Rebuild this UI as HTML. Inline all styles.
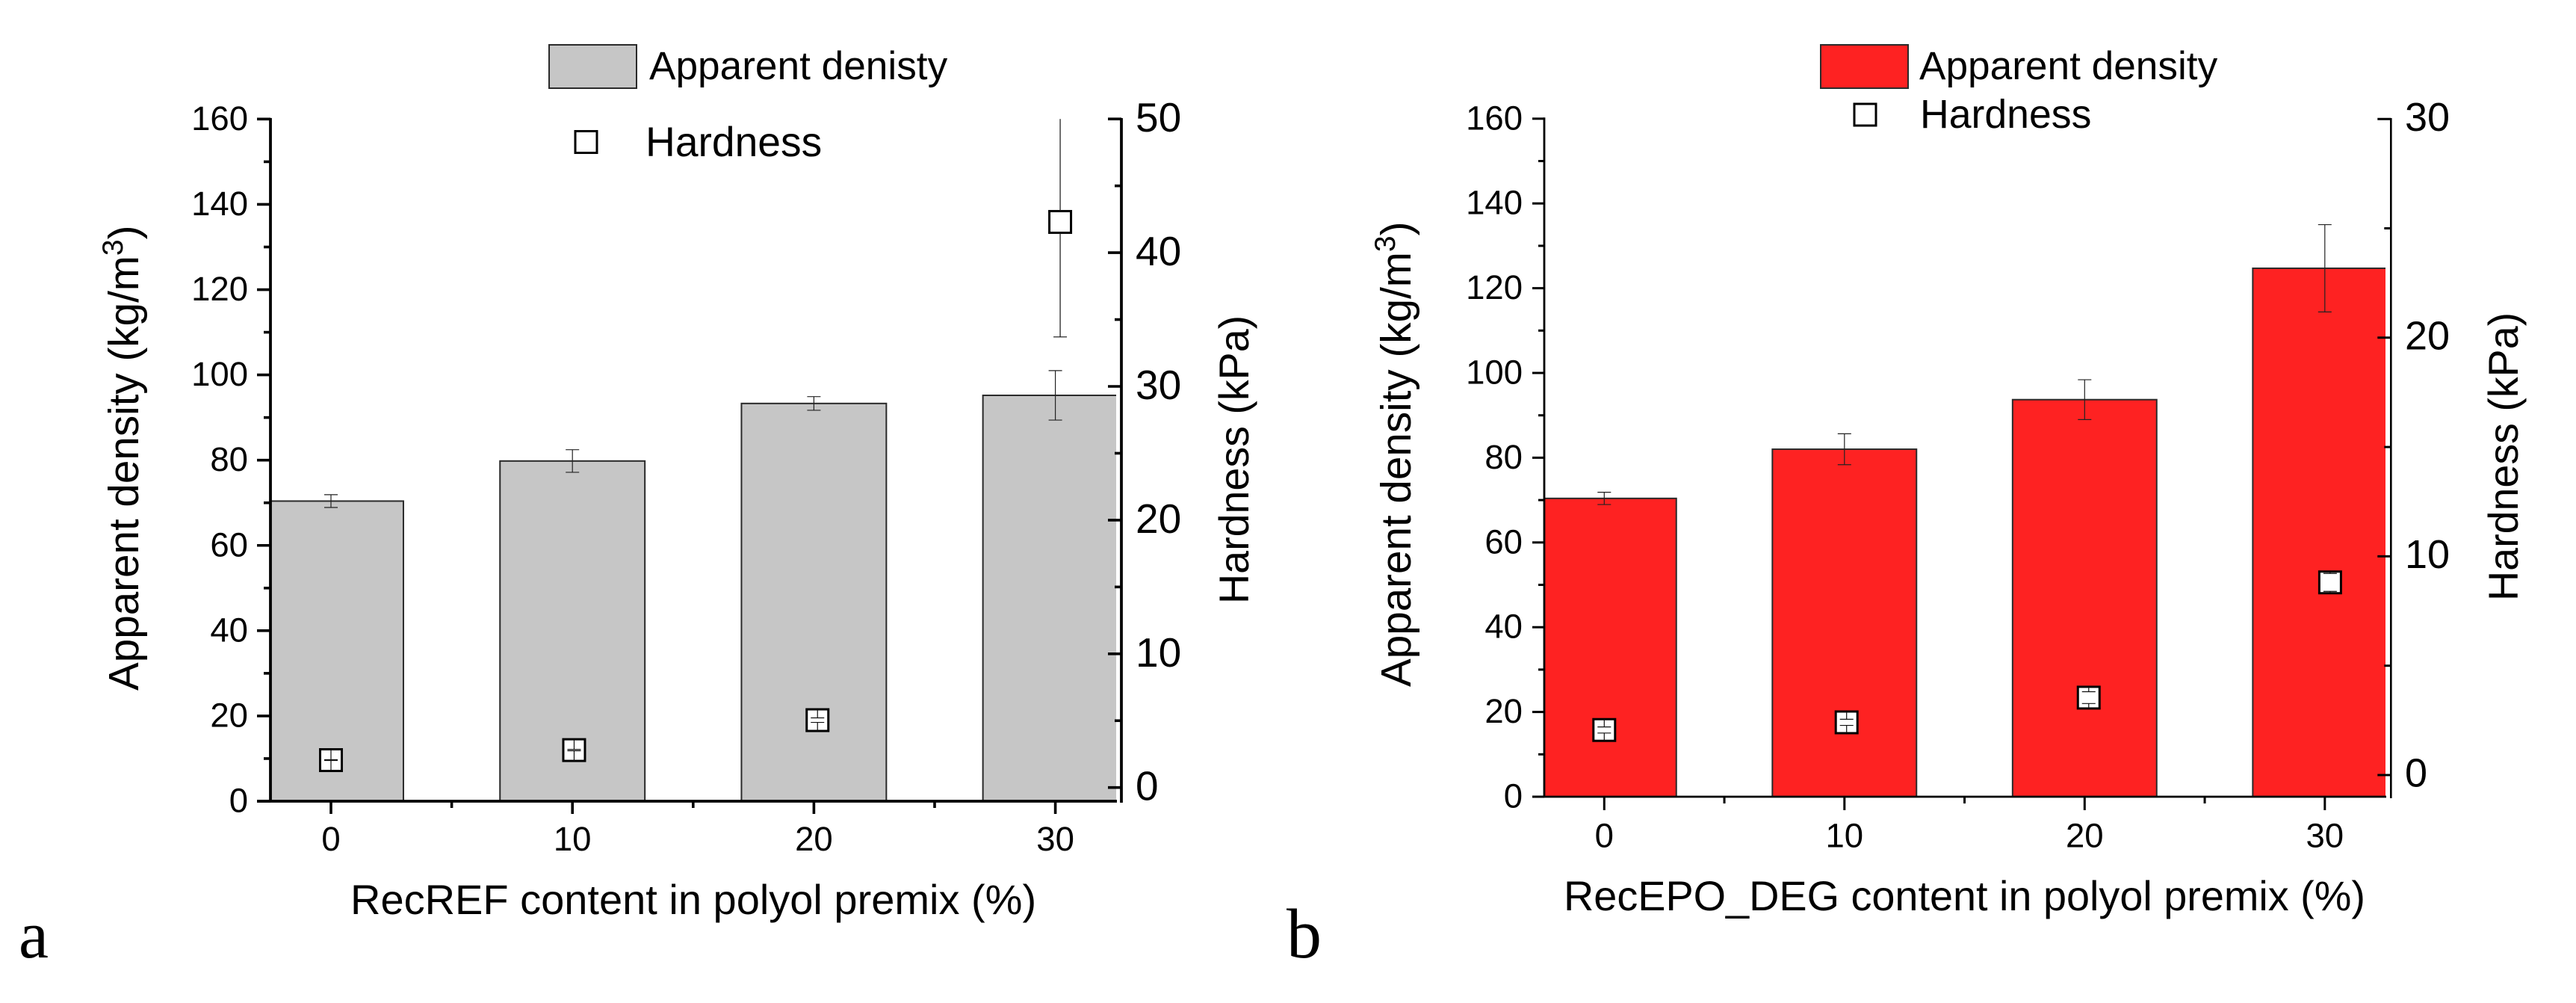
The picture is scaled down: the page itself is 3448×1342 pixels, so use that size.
<!DOCTYPE html>
<html lang="en">
<head>
<meta charset="utf-8">
<title>Apparent density and hardness charts</title>
<style>
html,body{margin:0;padding:0;background:#fff;width:3448px;height:1342px;overflow:hidden}
svg{display:block}
text{font-family:"Liberation Sans",Arial,sans-serif;fill:#000}
.serif{font-family:"Liberation Serif","Times New Roman",serif}
</style>
</head>
<body>
<svg id="figure" xmlns="http://www.w3.org/2000/svg" width="3448" height="1342" viewBox="0 0 3448 1342">
  <rect x="0" y="0" width="3448" height="1342" fill="#ffffff"/>
  <defs>
    <clipPath id="clip-a"><rect x="362" y="150" width="1132" height="922"/></clipPath>
    <clipPath id="clip-b"><rect x="2067" y="150" width="1126" height="916"/></clipPath>
  </defs>

  <g id="panel-a"></g>
  <g id="panel-b"></g>

  <text transform="translate(185,924) rotate(-90)" font-size="56.6">Apparent density (kg/m<tspan font-size="39" dy="-21">3</tspan><tspan dy="21">)</tspan></text>
  <text transform="translate(1671,808) rotate(-90)" font-size="55.6">Hardness (kPa)</text>
  <text x="469" y="1223" font-size="56">RecREF content in polyol premix (%)</text>
  <text class="serif" x="25" y="1281" font-size="90">a</text>

  <rect x="735" y="60" width="117" height="58" fill="#c6c6c6" stroke="#2a2a2a" stroke-width="2"/>
  <text x="869" y="106" font-size="53.2">Apparent denisty</text>
  <rect x="770" y="175.500" width="29" height="29" fill="#ffffff" stroke="#000" stroke-width="3"/>
  <text x="864" y="209" font-size="55.2">Hardness</text>

  <text transform="translate(1888,919) rotate(-90)" font-size="56.6">Apparent density (kg/m<tspan font-size="39" dy="-21">3</tspan><tspan dy="21">)</tspan></text>
  <text transform="translate(3370,804) rotate(-90)" font-size="55.6">Hardness (kPa)</text>
  <text x="2093" y="1218" font-size="55.8">RecEPO_DEG content in polyol premix (%)</text>
  <text class="serif" x="1722" y="1281" font-size="94">b</text>

  <rect x="2437" y="60" width="117" height="58" fill="#fe2222" stroke="#2a2a2a" stroke-width="2"/>
  <text x="2569" y="106" font-size="53.2">Apparent density</text>
  <rect x="2482" y="139" width="29" height="29" fill="#ffffff" stroke="#000" stroke-width="3"/>
  <text x="2570" y="171" font-size="53.6">Hardness</text>
</svg>

<script>
// ---- Data ----
const categories = [0, 10, 20, 30];
const xMinorTicks = [5, 15, 25];
const leftMajorTicks = [0, 20, 40, 60, 80, 100, 120, 140, 160];
const leftMinorTicks = [10, 30, 50, 70, 90, 110, 130, 150];

const densityA = [70.4, 79.8, 93.3, 95.2];
const densityErrA = [1.5, 2.65, 1.6, 5.8];
const hardnessXA = [0, 10.07, 20.15, 30.2];
const hardnessA = [2.05, 2.8, 5.04, 42.3];
const hardnessErrA = [0.03, 0.05, 0.17, 8.6];
const rightMajorTicksA = [0, 10, 20, 30, 40, 50];
const rightMinorTicksA = [5, 15, 25, 35, 45];

const densityB = [70.4, 82, 93.7, 124.7];
const densityErrB = [1.45, 3.65, 4.7, 10.3];
const hardnessXB = [0, 10.09, 20.17, 30.22];
const hardnessB = [2.06, 2.41, 3.54, 8.81];
const hardnessErrB = [0.14, 0.14, 0.27, 0.41];
const rightMajorTicksB = [0, 10, 20, 30];
const rightMinorTicksB = [5, 15, 25];

const SVGNS = 'http://www.w3.org/2000/svg';

function makeLine(parent, x1, y1, x2, y2, width, color) {
  const el = document.createElementNS(SVGNS, 'line');
  el.setAttribute('x1', x1);
  el.setAttribute('y1', y1);
  el.setAttribute('x2', x2);
  el.setAttribute('y2', y2);
  el.setAttribute('stroke', color);
  el.setAttribute('stroke-width', width);
  
  parent.appendChild(el);
  return el;
}

function makeText(parent, x, y, size, anchor, content) {
  const el = document.createElementNS(SVGNS, 'text');
  el.setAttribute('x', x);
  el.setAttribute('y', y);
  el.setAttribute('font-size', size);
  el.setAttribute('text-anchor', anchor);
  
  el.textContent = content;
  parent.appendChild(el);
  return el;
}

function drawPanel(p) {
  const g = document.getElementById(p.id);
  const xS = v => p.x0 + v * p.xUnit;
  const yL = v => p.yL0 - v * p.yLUnit;
  const yR = v => p.yR0 - v * p.yRUnit;
  const halfBar = p.barWidthUnits / 2;

  // bars
  const barGroup = document.createElementNS(SVGNS, 'g');
  barGroup.setAttribute('clip-path', 'url(#' + p.clip + ')');
  
  
  g.appendChild(barGroup);
  p.categories.forEach((c, i) => {
    const bar = document.createElementNS(SVGNS, 'rect');
    const left = xS(c - halfBar);
    const right = xS(c + halfBar);
    bar.setAttribute('x', left);
    bar.setAttribute('y', yL(p.density[i]));
    bar.setAttribute('width', right - left);
    bar.setAttribute('height', yL(0) - yL(p.density[i]));
    bar.setAttribute('fill', p.barFill);
    bar.setAttribute('stroke', '#2a2a2a');
    bar.setAttribute('stroke-width', 2);
    
    
    barGroup.appendChild(bar);
  });

  // density error bars
  p.categories.forEach((c, i) => {
    const x = xS(c);
    const hi = yL(p.density[i] + p.densityErr[i]);
    const lo = yL(p.density[i] - p.densityErr[i]);
    const stem = makeLine(g, x, hi, x, lo, 1.2, '#222');
    
    const capTop = makeLine(g, x - 9, hi, x + 9, hi, 1.2, '#222');
    
    const capBottom = makeLine(g, x - 9, lo, x + 9, lo, 1.2, '#222');
    
  });

  // axes
  const xAxis = makeLine(g, p.xAxisStart, yL(0), p.xAxisEnd, yL(0), p.axisWidth, '#000');
  
  const leftAxis = makeLine(g, p.leftX, yL(160) - 1.5, p.leftX, yL(0), p.axisWidth, '#000');
  
  const rightAxis = makeLine(g, p.rightX, p.rightTop, p.rightX, p.rightBottom, p.rightAxisWidth, '#000');
  

  // x ticks
  p.categories.forEach(c => {
    const tick = makeLine(g, xS(c), yL(0), xS(c), yL(0) + p.xTickLen, p.tickWidth, '#000');
    
    const label = makeText(g, xS(c), p.xLabelY, p.leftFont, 'middle', String(c));
    
  });
  p.xMinor.forEach(c => {
    const tick = makeLine(g, xS(c), yL(0), xS(c), yL(0) + 9, p.tickWidth, '#000');
    
  });

  // left ticks
  p.leftMajor.forEach(v => {
    const tick = makeLine(g, p.leftX - p.leftTickLen, yL(v), p.leftX, yL(v), p.tickWidth, '#000');
    
    const label = makeText(g, p.leftLabelX, yL(v) + 14.5, p.leftFont, 'end', String(v));
    
  });
  p.leftMinor.forEach(v => {
    const tick = makeLine(g, p.leftX - p.leftTickLen / 2, yL(v), p.leftX, yL(v), p.tickWidth, '#000');
    
  });

  // right ticks (pointing inward)
  p.rightMajor.forEach(v => {
    const tick = makeLine(g, p.rightX - 18, yR(v), p.rightX, yR(v), p.tickWidth, '#000');
    
    const label = makeText(g, p.rightLabelX, yR(v) + p.rightLabelDy, p.rightFont, 'start', String(v));
    
  });
  p.rightMinor.forEach(v => {
    const tick = makeLine(g, p.rightX - 9, yR(v), p.rightX, yR(v), p.tickWidth, '#000');
    
  });

  // hardness markers with error bars
  const half = 14.5;
  p.hardness.forEach((v, i) => {
    const x = xS(p.hardnessX[i]);
    const y = yR(v);
    const marker = document.createElementNS(SVGNS, 'rect');
    marker.setAttribute('x', x - half);
    marker.setAttribute('y', y - half);
    marker.setAttribute('width', half * 2);
    marker.setAttribute('height', half * 2);
    marker.setAttribute('fill', '#ffffff');
    marker.setAttribute('stroke', '#000');
    marker.setAttribute('stroke-width', 3);
    
    
    g.appendChild(marker);

    const upper = v + p.hardnessErr[i];
    const lower = v - p.hardnessErr[i];
    const clipped = upper > p.rightMax;
    const yHi = clipped ? yR(p.rightMax) : yR(upper);
    const yLo = yR(lower);
    const stemUp = makeLine(g, x, y - half, x, yHi, 1.2, '#111');
    
    const stemDown = makeLine(g, x, y + half, x, yLo, 1.2, '#111');
    
    if (!clipped) {
      const capHi = makeLine(g, x - 9, yHi, x + 9, yHi, 1.2, '#111');
      
    }
    const capLo = makeLine(g, x - 9, yLo, x + 9, yLo, 1.2, '#111');
    
  });
}

drawPanel({
  id: 'panel-a', clip: 'clip-a', barFill: '#c6c6c6', categories: categories,
  density: densityA, densityErr: densityErrA,
  hardnessX: hardnessXA, hardness: hardnessA, hardnessErr: hardnessErrA,
  leftMajor: leftMajorTicks, leftMinor: leftMinorTicks,
  rightMajor: rightMajorTicksA, rightMinor: rightMinorTicksA, xMinor: xMinorTicks,
  x0: 443, xUnit: 32.32, barWidthUnits: 6,
  yL0: 1072, yLUnit: 5.704, yR0: 1053.7, yRUnit: 17.89, rightMax: 50,
  leftX: 362, rightX: 1501, rightTop: 158, rightBottom: 1074,
  xAxisStart: 344, xAxisEnd: 1495,
  axisWidth: 3.8, rightAxisWidth: 3.8, tickWidth: 3.6,
  leftTickLen: 18, xTickLen: 17, leftLabelX: 332, xLabelY: 1138,
  leftFont: 45.5, rightFont: 55, rightLabelX: 1520, rightLabelDy: 17
});

drawPanel({
  id: 'panel-b', clip: 'clip-b', barFill: '#fe2222', categories: categories,
  density: densityB, densityErr: densityErrB,
  hardnessX: hardnessXB, hardness: hardnessB, hardnessErr: hardnessErrB,
  leftMajor: leftMajorTicks, leftMinor: leftMinorTicks,
  rightMajor: rightMajorTicksB, rightMinor: rightMinorTicksB, xMinor: xMinorTicks,
  x0: 2147.3, xUnit: 32.15, barWidthUnits: 6,
  yL0: 1066, yLUnit: 5.67, yR0: 1037, yRUnit: 29.26, rightMax: 30,
  leftX: 2067, rightX: 3200.3, rightTop: 158, rightBottom: 1068,
  xAxisStart: 2052, xAxisEnd: 3194,
  axisWidth: 2.8, rightAxisWidth: 2.6, tickWidth: 3,
  leftTickLen: 16, xTickLen: 18, leftLabelX: 2038, xLabelY: 1133.5,
  leftFont: 45.5, rightFont: 54, rightLabelX: 3219, rightLabelDy: 15.6
});
</script>
</body>
</html>
